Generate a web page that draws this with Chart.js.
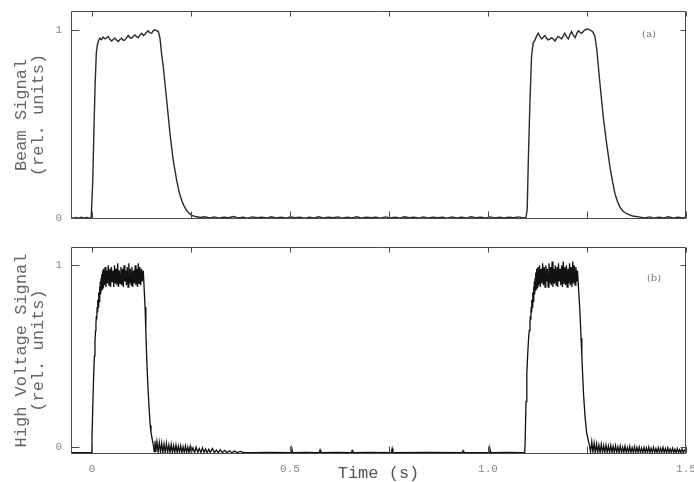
<!DOCTYPE html>
<html lang="en">
<head>
  <meta charset="UTF-8" />
  <title>Beam and High Voltage Signal</title>
  <style>
    body { margin: 0; background: #fff; }
    canvas { display: block; }
  </style>
</head>
<body>
  <canvas id="beamChart" width="694" height="240"></canvas>
  <canvas id="hvChart" width="694" height="242"></canvas>

  <script src="https://cdn.jsdelivr.net/npm/chart.js@4.4.0/dist/chart.umd.min.js"></script>
  <script>
    // --- data ---
    const xTickValues = [0, 0.5, 1.0, 1.5];
    const xTickLabels = ['0', '0.5', '1.0', '1.5'];
    const xMinorTicks = [0, 0.25, 0.5, 0.75, 1.0, 1.25, 1.5];
    const yTickValues = [0, 1];
    const yTickLabels = ['0', '1'];

    // (a) beam signal, [time s, rel. units]
    const beamSignal = [
      [-0.053,0.004],[-0.046,0.001],[-0.040,0.005],[-0.034,0.002],[-0.027,0.006],[-0.020,0.002],[-0.013,0.005],[-0.007,0.001],[-0.002,0.004],
      [0.002,0.20],[0.005,0.48],[0.008,0.72],[0.011,0.88],[0.014,0.925],[0.017,0.945],
      [0.020,0.956],[0.024,0.948],[0.028,0.962],[0.0328,0.952],[0.037,0.958],[0.0412,0.965],[0.045,0.950],[0.0497,0.941],[0.054,0.950],[0.058,0.956],
      [0.062,0.946],[0.0665,0.938],[0.071,0.950],[0.075,0.956],[0.079,0.944],[0.0833,0.947],[0.088,0.960],[0.0917,0.970],[0.096,0.958],[0.100,0.956],
      [0.104,0.966],[0.1086,0.973],[0.113,0.962],[0.117,0.959],[0.121,0.972],[0.1254,0.982],[0.130,0.970],[0.1338,0.977],[0.138,0.988],[0.142,0.995],
      [0.146,0.984],[0.1507,0.982],[0.155,0.996],[0.159,1.0],[0.163,0.996],[0.1675,0.991],[0.1717,0.956],
      [0.176,0.867],[0.180,0.805],[0.188,0.64],[0.197,0.45],[0.205,0.31],[0.214,0.20],[0.220,0.14],[0.2265,0.096],[0.232,0.068],[0.239,0.043],
      [0.245,0.028],[0.252,0.016],[0.262,0.010],[0.273,0.005],
      [0.285,0.009],[0.297,0.003],[0.309,0.008],[0.321,0.002],[0.333,0.007],[0.345,0.004],[0.357,0.010],[0.369,0.003],[0.381,0.006],[0.393,0.001],
      [0.405,0.008],[0.417,0.004],[0.429,0.007],[0.441,0.002],[0.453,0.009],[0.465,0.003],[0.477,0.006],[0.489,0.002],[0.501,0.008],[0.513,0.004],
      [0.525,0.007],[0.537,0.001],[0.549,0.006],[0.561,0.003],[0.573,0.009],[0.585,0.002],[0.597,0.007],[0.609,0.004],[0.621,0.008],[0.633,0.002],
      [0.645,0.006],[0.657,0.003],[0.669,0.009],[0.681,0.002],[0.693,0.007],[0.705,0.004],[0.717,0.006],[0.729,0.001],[0.741,0.008],[0.753,0.003],
      [0.765,0.007],[0.777,0.002],[0.789,0.009],[0.801,0.004],[0.813,0.006],[0.825,0.002],[0.837,0.008],[0.849,0.003],[0.861,0.007],[0.873,0.004],
      [0.885,0.006],[0.897,0.001],[0.909,0.008],[0.921,0.003],[0.933,0.007],[0.945,0.002],[0.957,0.009],[0.969,0.004],[0.981,0.006],[0.993,0.002],
      [1.005,0.008],[1.017,0.003],[1.029,0.007],[1.041,0.002],[1.053,0.006],[1.065,0.004],[1.077,0.008],[1.089,0.003],[1.096,0.005],
      [1.099,0.05],[1.102,0.32],[1.106,0.62],[1.110,0.86],[1.114,0.93],[1.1187,0.947],
      [1.123,0.968],[1.127,0.982],[1.131,0.965],[1.1356,0.952],[1.140,0.962],[1.144,0.970],[1.148,0.955],[1.152,0.947],[1.157,0.952],[1.161,0.959],
      [1.165,0.950],[1.169,0.941],[1.173,0.955],[1.1775,0.965],[1.182,0.958],[1.186,0.952],[1.190,0.968],[1.194,0.982],[1.198,0.965],[1.203,0.952],
      [1.207,0.975],[1.211,0.991],[1.215,0.972],[1.220,0.959],[1.224,0.980],[1.228,0.995],[1.232,0.988],[1.237,0.982],[1.241,0.993],[1.245,1.0],
      [1.249,1.003],[1.253,1.005],[1.258,0.998],[1.262,0.995],[1.266,0.985],[1.270,0.965],
      [1.2745,0.90],[1.282,0.73],[1.291,0.54],[1.300,0.39],[1.308,0.273],[1.314,0.20],[1.3207,0.131],[1.327,0.09],[1.333,0.06],[1.341,0.038],
      [1.350,0.025],[1.365,0.013],[1.384,0.007],
      [1.396,0.003],[1.408,0.008],[1.420,0.002],[1.432,0.007],[1.444,0.003],[1.456,0.009],[1.468,0.002],[1.480,0.006],[1.492,0.003],[1.500,0.007]
    ];

    // (b) high voltage signal, [time s, rel. units]
    const hvSignal = [
      [-0.053,-0.030],[-0.030,-0.031],[-0.010,-0.030],[-0.002,-0.031],
      [0.000,0.05],[0.002,0.22],[0.004,0.38],[0.006,0.50],[0.0075,0.58],[0.009,0.64],[0.010,0.68],[0.011,0.72],[0.012,0.70],[0.013,0.77],
      [0.014,0.74],[0.015,0.81],[0.016,0.77],[0.017,0.85],[0.018,0.80],[0.019,0.88],[0.020,0.82],[0.021,0.91],[0.022,0.84],[0.023,0.93],
      [0.024,0.86],[0.025,0.95],[0.026,0.87],[0.027,0.97],[0.028,0.88],
      [0.029,0.98],[0.031,0.89],[0.033,0.99],[0.035,0.88],[0.037,0.97],[0.039,0.90],[0.041,1.00],[0.043,0.89],[0.045,0.98],[0.047,0.88],
      [0.049,0.99],[0.051,0.91],[0.053,0.97],[0.055,0.88],[0.057,1.00],[0.059,0.90],[0.061,0.98],[0.063,0.89],[0.065,1.01],[0.067,0.88],
      [0.069,0.97],[0.071,0.90],[0.073,0.99],[0.075,0.89],[0.077,0.98],[0.079,0.88],[0.081,1.00],[0.083,0.91],[0.085,0.97],[0.087,0.89],
      [0.089,0.99],[0.091,0.88],[0.093,1.01],[0.095,0.90],[0.097,0.98],[0.099,0.89],[0.101,0.99],[0.103,0.88],[0.105,0.97],[0.107,0.90],
      [0.109,1.00],[0.111,0.89],[0.113,0.98],[0.115,0.88],[0.117,1.01],[0.119,0.90],[0.121,0.99],[0.123,0.89],[0.125,0.98],[0.127,0.91],
      [0.1295,0.97],
      [0.132,0.86],[0.134,0.77],[0.136,0.64],[0.138,0.50],[0.141,0.34],[0.144,0.22],[0.147,0.12],[0.149,0.08],[0.151,0.057],[0.153,0.03],[0.155,0.01],
      [0.157,-0.025],[0.159,0.035],[0.161,-0.028],[0.164,0.030],[0.167,-0.030],[0.170,0.025],[0.173,-0.029],[0.176,0.022],[0.179,-0.031],[0.182,0.018],
      [0.185,-0.030],[0.188,0.020],[0.191,-0.029],[0.194,0.012],[0.197,-0.031],[0.200,0.015],[0.203,-0.030],[0.206,0.008],[0.209,-0.031],[0.212,0.012],
      [0.215,-0.030],[0.218,0.005],[0.221,-0.031],[0.224,0.008],[0.227,-0.030],[0.230,0.002],[0.233,-0.031],[0.236,0.006],[0.239,-0.030],[0.242,0.0],
      [0.245,-0.031],[0.248,0.004],[0.251,-0.030],[0.255,-0.004],[0.259,-0.031],[0.263,0.0],[0.267,-0.030],[0.271,-0.008],[0.275,-0.031],[0.279,-0.004],
      [0.283,-0.030],[0.287,-0.010],[0.291,-0.031],[0.295,-0.012],[0.299,-0.030],[0.304,-0.008],[0.309,-0.031],[0.314,-0.016],[0.319,-0.030],[0.324,-0.014],
      [0.329,-0.031],[0.335,-0.018],[0.341,-0.030],[0.347,-0.020],[0.353,-0.031],[0.360,-0.022],[0.367,-0.030],[0.375,-0.024],[0.383,-0.031],
      [0.400,-0.030],[0.450,-0.029],[0.503,-0.030],[0.505,-0.012],[0.507,-0.030],[0.540,-0.029],[0.574,-0.030],[0.576,-0.016],[0.578,-0.030],
      [0.620,-0.029],[0.655,-0.030],[0.657,-0.019],[0.659,-0.030],[0.700,-0.029],[0.756,-0.030],[0.758,-0.008],[0.760,-0.030],[0.850,-0.029],
      [0.935,-0.030],[0.937,-0.020],[0.939,-0.030],[1.003,-0.030],[1.005,-0.010],[1.007,-0.030],[1.050,-0.029],[1.090,-0.030],
      [1.093,-0.028],[1.094,0.05],[1.096,0.25],[1.098,0.40],[1.100,0.50],[1.102,0.58],[1.104,0.64],[1.106,0.68],[1.107,0.72],[1.108,0.70],
      [1.109,0.77],[1.110,0.74],[1.111,0.81],[1.112,0.77],[1.113,0.85],[1.114,0.80],[1.115,0.88],[1.116,0.82],[1.117,0.91],[1.118,0.84],
      [1.119,0.93],[1.120,0.86],[1.121,0.96],[1.122,0.87],[1.123,0.98],[1.124,0.88],
      [1.126,0.99],[1.128,0.89],[1.130,1.00],[1.132,0.88],[1.134,0.98],[1.136,0.90],[1.138,1.01],[1.140,0.89],[1.142,0.99],[1.144,0.88],
      [1.146,1.00],[1.148,0.91],[1.150,0.98],[1.152,0.88],[1.154,1.01],[1.156,0.90],[1.158,0.99],[1.160,0.89],[1.162,1.02],[1.164,0.88],
      [1.166,0.98],[1.168,0.90],[1.170,1.00],[1.172,0.89],[1.174,0.99],[1.176,0.88],[1.178,1.01],[1.180,0.91],[1.182,0.98],[1.184,0.89],
      [1.186,1.00],[1.188,0.88],[1.190,1.02],[1.192,0.90],[1.194,0.99],[1.196,0.89],[1.198,1.00],[1.200,0.88],[1.202,0.98],[1.204,0.90],
      [1.206,1.01],[1.208,0.89],[1.210,0.99],[1.212,0.88],[1.214,1.02],[1.216,0.90],[1.218,1.00],[1.220,0.89],[1.222,0.99],[1.224,0.91],
      [1.226,0.97],
      [1.229,0.86],[1.232,0.75],[1.235,0.60],[1.237,0.50],[1.241,0.30],[1.245,0.17],[1.249,0.08],[1.253,0.04],[1.256,0.01],
      [1.259,-0.026],[1.262,0.030],[1.265,-0.029],[1.268,0.022],[1.271,-0.031],[1.274,0.018],[1.277,-0.030],[1.280,0.012],[1.283,-0.031],[1.286,0.015],
      [1.289,-0.030],[1.292,0.008],[1.295,-0.031],[1.298,0.012],[1.301,-0.030],[1.304,0.006],[1.307,-0.031],[1.310,0.010],[1.313,-0.030],[1.316,0.004],
      [1.319,-0.031],[1.322,0.008],[1.325,-0.030],[1.328,0.002],[1.331,-0.031],[1.334,0.006],[1.337,-0.030],[1.340,0.000],[1.343,-0.031],[1.346,0.005],
      [1.349,-0.030],[1.352,-0.002],[1.355,-0.031],[1.358,0.004],[1.361,-0.030],[1.364,-0.004],[1.367,-0.031],[1.370,0.002],[1.373,-0.030],[1.376,-0.002],
      [1.379,-0.031],[1.382,0.000],[1.385,-0.030],[1.388,-0.006],[1.391,-0.031],[1.394,-0.002],[1.397,-0.030],[1.400,-0.004],[1.403,-0.031],[1.406,0.000],
      [1.409,-0.030],[1.412,-0.006],[1.415,-0.031],[1.418,-0.002],[1.421,-0.030],[1.424,-0.008],[1.427,-0.031],[1.430,-0.003],[1.433,-0.030],[1.436,-0.006],
      [1.439,-0.031],[1.442,-0.002],[1.445,-0.030],[1.448,-0.008],[1.451,-0.031],[1.454,-0.004],[1.457,-0.030],[1.460,-0.010],[1.463,-0.031],[1.466,-0.006],
      [1.469,-0.030],[1.472,-0.012],[1.475,-0.031],[1.478,-0.008],[1.481,-0.030],[1.484,-0.014],[1.487,-0.031],[1.490,-0.010],[1.493,-0.030],[1.496,-0.016],
      [1.500,-0.030]
    ];

    const xMin = -0.053, xMax = 1.5;
    const monoFont = '"Liberation Mono", "DejaVu Sans Mono", monospace';

    // frame, inward tick marks and the (a)/(b) tag
    const framePlugin = {
      id: 'frame',
      afterDatasetsDraw(chart, args, opts) {
        const { ctx, chartArea: a, scales: { x, y } } = chart;
        const L = Math.round(a.left) + 0.5, R = Math.round(a.right) - 0.5;
        const T = Math.round(a.top) + 0.5, B = Math.round(a.bottom) - 0.5;
        ctx.save();
        ctx.strokeStyle = '#4a4a4a';
        ctx.lineWidth = 1;
        ctx.beginPath();
        ctx.rect(L, T, R - L, B - T);
        xMinorTicks.forEach(v => {
          const px = Math.round(x.getPixelForValue(v)) + 0.5;
          ctx.moveTo(px, B); ctx.lineTo(px, B - 7);
          ctx.moveTo(px, T); ctx.lineTo(px, T + 5);
        });
        yTickValues.forEach(v => {
          const py = Math.round(y.getPixelForValue(v)) + 0.5;
          ctx.moveTo(L, py); ctx.lineTo(L + 8, py);
          ctx.moveTo(R, py); ctx.lineTo(R - 5, py);
        });
        ctx.stroke();
        ctx.fillStyle = '#777';
        ctx.font = '10px "DejaVu Serif", serif';
        ctx.textAlign = 'center';
        ctx.textBaseline = 'middle';
        ctx.fillText(opts.tag, a.right - opts.dx, a.top + opts.dy);
        ctx.restore();
      }
    };

    function makePanel(id, signal, yMin, yMax, title, showX, tag, pad) {
      return new Chart(document.getElementById(id), {
        type: 'line',
        data: {
          datasets: [{
            data: signal.map(p => ({ x: p[0], y: p[1] })),
            borderColor: showX ? '#111' : '#2a2a2a',
            borderWidth: showX ? 1.3 : 1.4,
            pointRadius: 0,
            tension: 0
          }]
        },
        options: {
          responsive: false,
          animation: false,
          devicePixelRatio: 1,
          layout: { padding: pad },
          plugins: {
            legend: { display: false },
            tooltip: { enabled: false },
            frame: tag
          },
          scales: {
            x: {
              type: 'linear',
              min: xMin,
              max: xMax,
              display: showX,
              grid: { display: false, drawTicks: false },
              border: { display: false },
              afterBuildTicks: s => { s.ticks = xTickValues.map(v => ({ value: v })); },
              afterFit: s => {
                s.height = showX ? 28 : 21;
                s.paddingLeft = 0; s.paddingRight = 0;
              },
              ticks: {
                padding: 8,
                color: '#888',
                font: { family: monoFont, size: 11 },
                callback: (v, i) => xTickLabels[i]
              },
              title: {
                display: true,
                text: 'Time (s)',
                color: '#555',
                font: { family: monoFont, size: 17, lineHeight: 1 },
                padding: { top: 0, bottom: 0 }
              }
            },
            y: {
              type: 'linear',
              min: yMin,
              max: yMax,
              grid: { display: false, drawTicks: false },
              border: { display: false },
              afterBuildTicks: s => { s.ticks = yTickValues.map(v => ({ value: v })); },
              afterFit: s => {
                s.width = 71;
                s.paddingTop = 0; s.paddingBottom = 0;
              },
              ticks: {
                padding: 9,
                color: '#888',
                font: { family: monoFont, size: 11 },
                callback: (v, i) => yTickLabels[i]
              },
              title: {
                display: true,
                text: title,
                color: '#666',
                font: { family: monoFont, size: 17, lineHeight: 1 },
                padding: { top: 13, bottom: 0 }
              }
            }
          }
        },
        plugins: [framePlugin]
      });
    }

    makePanel('beamChart', beamSignal, -0.003, 1.1, ['Beam Signal', '(rel. units)'], false,
      { tag: '(a)', dx: 37, dy: 23 }, { top: 11, right: 8, bottom: 0, left: 0 });
    makePanel('hvChart', hvSignal, -0.038, 1.1, ['High Voltage Signal', '(rel. units)'], true,
      { tag: '(b)', dx: 32, dy: 31 }, { top: 7, right: 8, bottom: 0, left: 0 });
  </script>
</body>
</html>
